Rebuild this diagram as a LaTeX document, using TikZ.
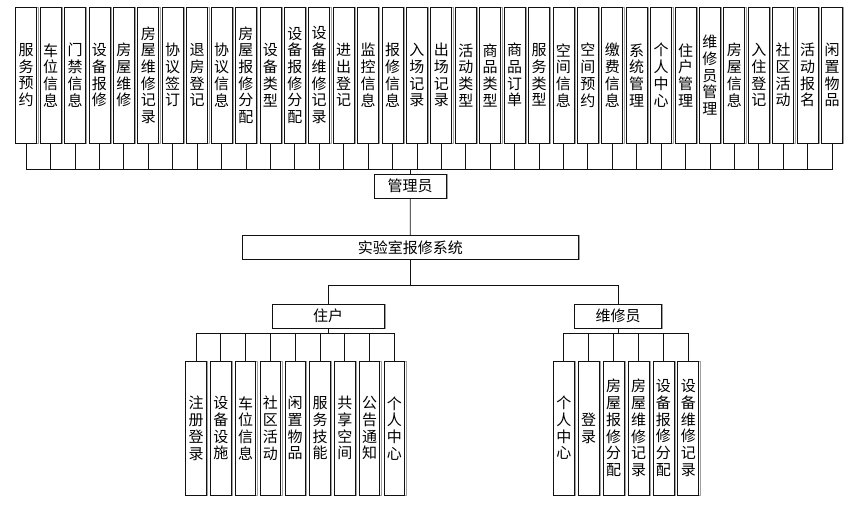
\documentclass[tikz,border=0pt]{standalone}
\usepackage{fontspec}
\newfontfamily\cjk{Noto Sans CJK SC}
\definecolor{lrsLine}{HTML}{111111}
\definecolor{lrsShade}{HTML}{A0A0A0}
\tikzset{
  lrs box/.style={draw=lrsLine, fill=white, line width=0.8pt, inner sep=0pt, font=\cjk\fontsize{15}{16.7}\selectfont,
    preaction={draw=lrsShade, line width=0.8pt, transform canvas={xshift=1.3pt}}},
  lrs vbox/.style={lrs box, minimum width=21pt, text width=16pt, align=center},
  lrs link/.style={draw=lrsLine, line width=0.8pt},
}
\begin{document}
\begin{tikzpicture}[x=1pt,y=-1pt]
\useasboundingbox(0,0)rectangle(852,508);
% 管理员的功能
\foreach \t [count=\i] in {{服\\务\\预\\约},{车\\位\\信\\息},{门\\禁\\信\\息},{设\\备\\报\\修},{房\\屋\\维\\修},{房\\屋\\维\\修\\记\\录},{协\\议\\签\\订},{退\\房\\登\\记},{协\\议\\信\\息},{房\\屋\\报\\修\\分\\配},{设\\备\\类\\型},{设\\备\\报\\修\\分\\配},{设\\备\\维\\修\\记\\录},{进\\出\\登\\记},{监\\控\\信\\息},{报\\修\\信\\息},{入\\场\\记\\录},{出\\场\\记\\录},{活\\动\\类\\型},{商\\品\\类\\型},{商\\品\\订\\单},{服\\务\\类\\型},{空\\间\\信\\息},{空\\间\\预\\约},{缴\\费\\信\\息},{系\\统\\管\\理},{个\\人\\中\\心},{住\\户\\管\\理},{维\\修\\员\\管\\理},{房\\屋\\信\\息},{入\\住\\登\\记},{社\\区\\活\\动},{活\\动\\报\\名},{闲\\置\\物\\品}}{\node[lrs vbox,minimum height=136pt](a\i)at({26.2+24.42*(\i-1)},75.2){\t};}
\node[lrs box,minimum width=72pt,minimum height=24pt](admin)at(410.2,186.2){管理员};
\coordinate(abus)at(410.2,169.3);
\foreach \i in {1,...,34}{\draw[lrs link](a\i.south)|-(abus);}
\draw[lrs link](abus)--(admin.north);
% 系统
\node[lrs box,minimum width=336pt,minimum height=24pt](sys)at(410.3,247.3){实验室报修系统};
\draw[lrs link](admin.south)--(sys.north);
\node[lrs box,minimum width=112pt,minimum height=24pt](resident)at(328.2,316.3){住户};
\node[lrs box,minimum width=87pt,minimum height=24pt](repairer)at(618,316.3){维修员};
\coordinate(sbus)at(410.3,285);
\draw[lrs link](sys.south)--(sbus);
\draw[lrs link](sbus)-|(resident.north);
\draw[lrs link](sbus)-|(repairer.north);
% 住户的功能
\foreach \t [count=\i] in {{注\\册\\登\\录},{设\\备\\设\\施},{车\\位\\信\\息},{社\\区\\活\\动},{闲\\置\\物\\品},{服\\务\\技\\能},{共\\享\\空\\间},{公\\告\\通\\知},{个\\人\\中\\心}}{\node[lrs vbox,minimum width=20.5pt,minimum height=133.5pt](r\i)at({196+24.8*(\i-1)},428.3){\t};}
\coordinate(rbus)at(328.2,333.3);
\draw[lrs link](resident.south)--(rbus);
\foreach \i in {1,...,9}{\draw[lrs link](rbus)-|(r\i.north);}
% 维修员的功能
\foreach \t [count=\i] in {{个\\人\\中\\心},{登\\录},{房\\屋\\报\\修\\分\\配},{房\\屋\\维\\修\\记\\录},{设\\备\\报\\修\\分\\配},{设\\备\\维\\修\\记\\录}}{\node[lrs vbox,minimum height=134pt](m\i)at({563.8+24.9*(\i-1)},428){\t};}
\coordinate(mbus)at(618,333.3);
\draw[lrs link](repairer.south)--(mbus);
\foreach \i in {1,...,6}{\draw[lrs link](mbus)-|(m\i.north);}
\end{tikzpicture}
\end{document}
